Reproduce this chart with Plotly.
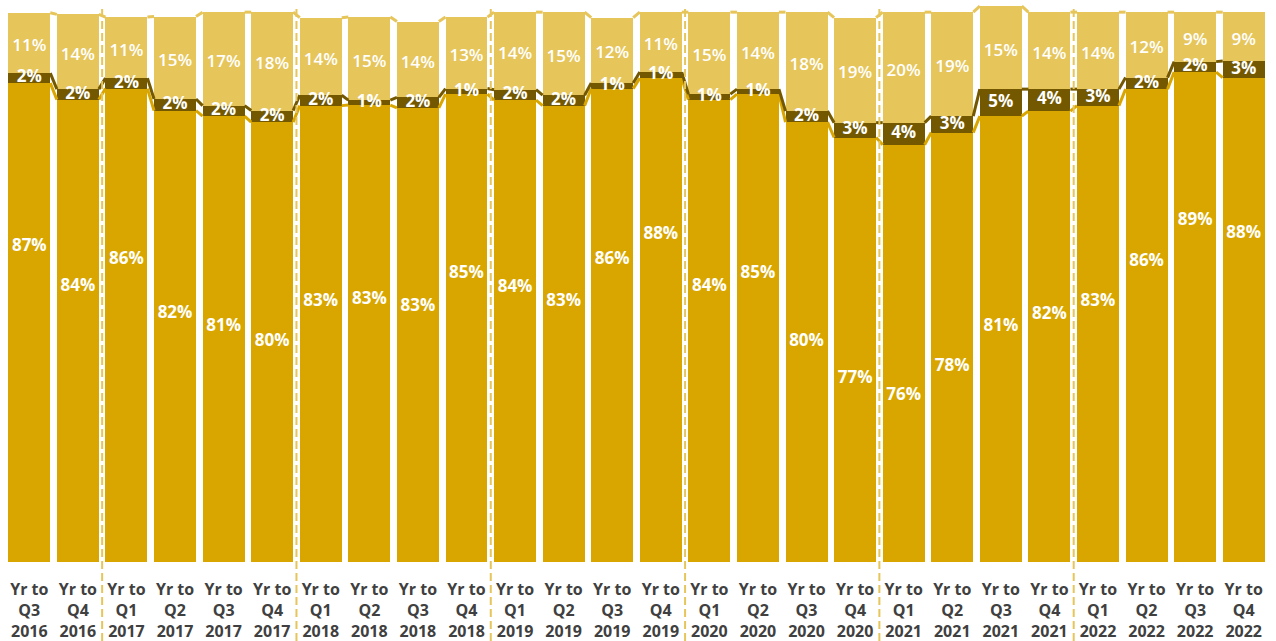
import plotly.graph_objects as go

periods = ["Q3 2016", "Q4 2016", "Q1 2017", "Q2 2017", "Q3 2017", "Q4 2017",
           "Q1 2018", "Q2 2018", "Q3 2018", "Q4 2018", "Q1 2019", "Q2 2019",
           "Q3 2019", "Q4 2019", "Q1 2020", "Q2 2020", "Q3 2020", "Q4 2020",
           "Q1 2021", "Q2 2021", "Q3 2021", "Q4 2021", "Q1 2022", "Q2 2022",
           "Q3 2022", "Q4 2022"]
tick_labels = ["Yr to<br>" + p.replace(" ", "<br>") for p in periods]

# shares in %
gold = [87.1, 84.1, 86.1, 82.1, 81.1, 80.0, 83.0, 83.1, 82.6, 85.1, 84.0, 83.0, 86.1,
        88.0, 84.1, 85.1, 80.0, 77.2, 75.9, 78.1, 81.1, 82.0, 83.0, 86.0, 89.1, 88.1]
dark = [1.8, 1.9, 1.9, 2.1, 1.9, 2.1, 1.9, 0.9, 1.9, 1.0, 1.9, 1.9, 1.0,
        1.1, 1.0, 0.9, 2.0, 2.7, 4.0, 3.0, 4.9, 4.0, 3.0, 2.1, 1.9, 3.0]
light = [11.0, 13.6, 11.1, 15.0, 17.0, 17.9, 14.1, 15.1, 13.8, 13.0, 14.1, 15.1, 11.9,
         10.9, 14.9, 14.0, 18.0, 19.1, 20.1, 18.9, 15.1, 14.0, 14.0, 11.9, 9.0, 8.9]

GOLD = "#D9A600"
DARK = "#735800"
LIGHT = "#E6C55A"

n = len(periods)
xs = list(range(n))
bargap = 0.136
half = (1 - bargap) / 2

fig = go.Figure()
for vals, col in [(gold, GOLD), (dark, DARK), (light, LIGHT)]:
    fig.add_trace(go.Bar(x=xs, y=vals, marker=dict(color=col, line=dict(width=0)),
                         showlegend=False, hoverinfo="skip"))

# series lines joining the top of each segment
tops_gold = gold
tops_dark = [g + d for g, d in zip(gold, dark)]
tops_light = [g + d + l for g, d, l in zip(gold, dark, light)]
for tops, col in [(tops_gold, GOLD), (tops_dark, DARK), (tops_light, LIGHT)]:
    lx, ly = [], []
    for i in range(n - 1):
        lx += [i + half, i + 1 - half, None]
        ly += [tops[i], tops[i + 1], None]
    fig.add_trace(go.Scatter(x=lx, y=ly, mode="lines", line=dict(color=col, width=3),
                             showlegend=False, hoverinfo="skip"))

lbl_font = dict(family="Open Sans", size=17, color="white")
fig.add_trace(go.Scatter(
    x=xs, y=[g + d + l / 2 - 0.7 for g, d, l in zip(gold, dark, light)], mode="text",
    text=[f"{round(v)}%" for v in light], textfont=dict(lbl_font, weight=600),
    showlegend=False, hoverinfo="skip"))
fig.add_trace(go.Scatter(
    x=xs, y=[g + d / 2 for g, d in zip(gold, dark)], mode="text",
    text=[f"{round(v)}%" for v in dark], textfont=dict(lbl_font, weight="bold"),
    showlegend=False, hoverinfo="skip"))
fig.add_trace(go.Scatter(
    x=xs, y=gold, yaxis="y2", mode="text",
    text=[f"{round(v)}%" for v in gold], textfont=dict(lbl_font, weight="bold"),
    showlegend=False, hoverinfo="skip"))

# dashed year separators
for b in [1.5, 5.5, 9.5, 13.5, 17.5, 21.5]:
    fig.add_shape(type="line", xref="x", yref="paper", x0=b, x1=b, y0=-0.142, y1=0.995,
                  line=dict(color=LIGHT, width=2, dash="8px,4px"))

fig.update_layout(
    width=1276, height=641,
    barmode="stack", bargap=bargap,
    plot_bgcolor="white", paper_bgcolor="white",
    margin=dict(l=5, r=8, t=5, b=79),
    xaxis=dict(range=[-0.5, n - 0.5], tickvals=xs, ticktext=tick_labels,
               showgrid=False, zeroline=False, showline=False, ticks="",
               ticklabelstandoff=16, automargin=False,
               tickfont=dict(family="Open Sans", size=16, color="#404040", weight="bold")),
    yaxis=dict(range=[0, 101.3], visible=False),
    yaxis2=dict(range=[63.4, 105.3], overlaying="y", visible=False),
)

fig.write_html("out.html", config={"displayModeBar": False},
               post_script="document.body.style.margin='0';")
